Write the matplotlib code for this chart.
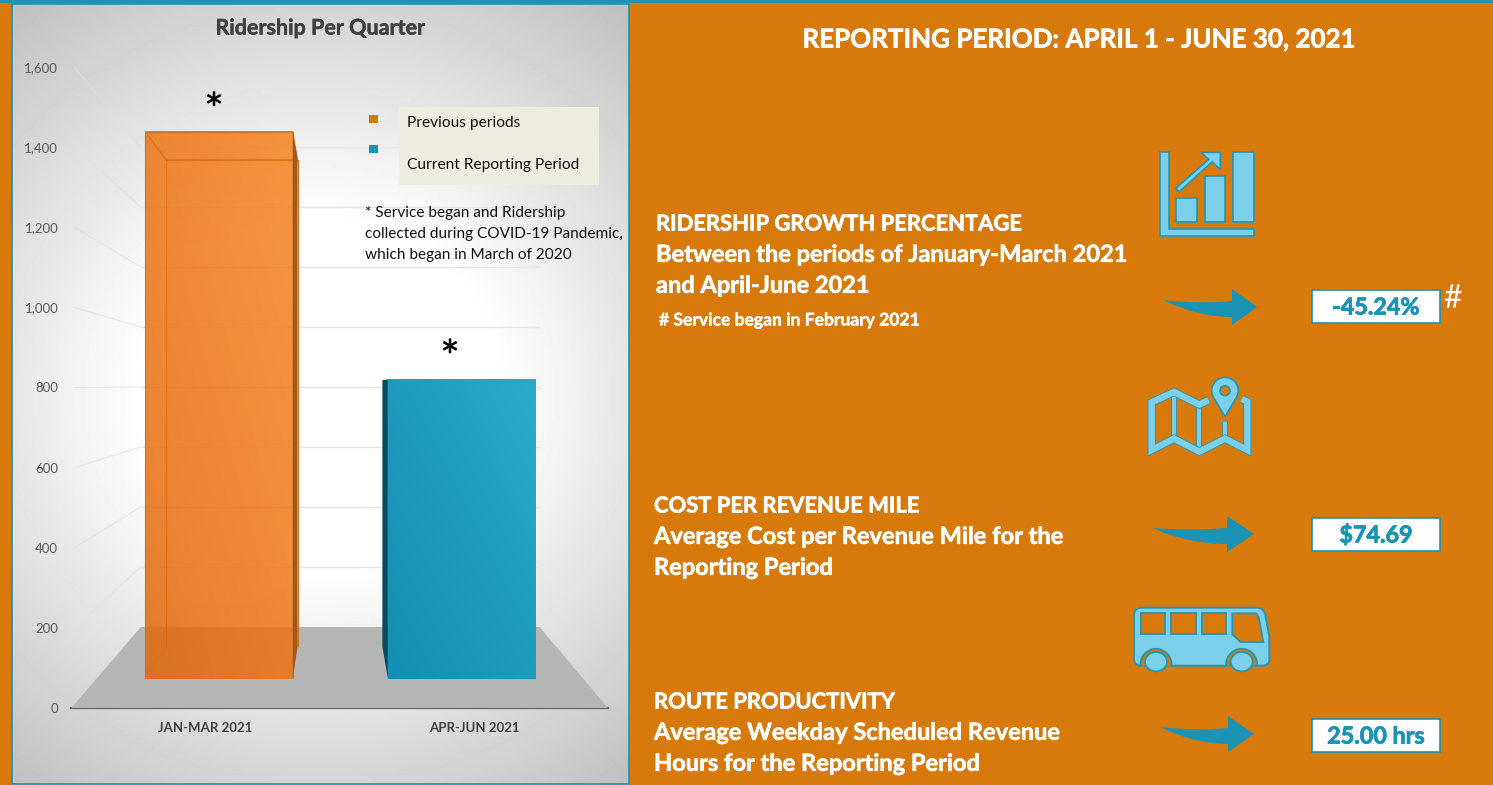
"""
Ridership per quarter dashboard: 3D style bar chart on the left, KPI panel on the right.
"""
import matplotlib
matplotlib.use('Agg')
import matplotlib.pyplot as plt
import matplotlib.patheffects as pe
import numpy as np
from matplotlib.path import Path
from matplotlib.patches import Circle, Ellipse, PathPatch, Polygon, Rectangle

plt.rcParams['font.family'] = ['Lato', 'DejaVu Sans']

W, H = 1493, 785

CATEGORIES = ['JAN-MAR 2021', 'APR-JUN 2021']
RIDERSHIP = [1500, 821]
Y_TICKS = [0, 200, 400, 600, 800, 1000, 1200, 1400, 1600]
LEGEND_LABELS = ['Previous periods', 'Current Reporting Period']
NOTE_LINES = ['* Service began and Ridership',
              'collected during COVID-19 Pandemic,',
              'which began in March of 2020']
KPI_TITLES = ['RIDERSHIP GROWTH PERCENTAGE', 'COST PER REVENUE MILE', 'ROUTE PRODUCTIVITY']
KPI_LINES = [['Between the periods of January-March 2021', 'and April-June 2021'],
             ['Average Cost per Revenue Mile for the', 'Reporting Period'],
             ['Average Weekday Scheduled Revenue', 'Hours for the Reporting Period']]
KPI_VALUES = ['-45.24%', '$74.69', '25.00 hrs']

ORANGE = '#D8790B'
TEAL = '#1A93B5'
ICON_FILL = '#7BCFE9'
ICON_EDGE = '#2296B5'
BAR_EDGE = '#D9701A'
BAR_WIDTH = 0.608


def pix_axes(fig, x0, x1, y_bottom, y_top, zorder):
    """Axes placed by image pixels, y measured from the top of the image."""
    ax = fig.add_axes([x0 / W, 1 - y_bottom / H, (x1 - x0) / W, (y_bottom - y_top) / H],
                      zorder=zorder)
    ax.patch.set_visible(False)
    ax.set_xticks([])
    ax.set_yticks([])
    for s in ax.spines.values():
        s.set_visible(False)
    return ax


def set_limits(ax):
    ax.set_xlim(-0.5, 1.5)
    ax.set_ylim(0, 1600)


def to_page(ax, page, x, y):
    return page.transData.inverted().transform(ax.transData.transform((x, y)))


def heavier(color, width=0.45):
    # Lato Bold is lighter than the original face, thicken it a little
    return [pe.withStroke(linewidth=width, foreground=color)]


def gradient_fill(ax, bar, low, high):
    """Diagonal gradient clipped to a bar (low = bottom left, high = top right)."""
    yy, xx = np.mgrid[0:1:64j, 0:1:64j]
    t = ((xx + yy) / 2)[..., None]
    rgba = np.array(low) * (1 - t) + np.array(high) * t
    im = ax.imshow(rgba, origin='lower', aspect='auto', zorder=3,
                   extent=(bar.get_x(), bar.get_x() + bar.get_width(), 0, bar.get_height()))
    im.set_clip_path(bar)


def background_gradient(page):
    yy, xx = np.mgrid[4:785:200j, 12:629:200j]
    r = np.hypot((xx - 320) / 400, (yy - 395) / 390)
    grey = (255 - np.clip(r - 0.45, 0, None) * 78) / 255
    page.imshow(grey, cmap='gray', vmin=0, vmax=1, extent=(12, 629, 785, 4),
                aspect='auto', zorder=1)
    page.set_xlim(0, W)
    page.set_ylim(H, 0)
    page.add_patch(Rectangle((12, 4), 617, 780, fill=False, ec=TEAL, lw=1.2, zorder=2))


def draw_chart(fig, page):
    # Each depth plane of the fake 3D chart gets its own axes with the same data range
    ax_lab = pix_axes(fig, 71.4, 608, 708, 67, 1)
    ax_wall = pix_axes(fig, 140.8, 539.6, 627, 147, 2)
    ax_back = pix_axes(fig, 123.8, 556.2, 646.7, 127.5, 3)
    ax_front = pix_axes(fig, 97.6, 583, 678.7, 95.2, 4)

    x = np.arange(len(CATEGORIES))
    for ax in (ax_lab, ax_wall, ax_back, ax_front):
        set_limits(ax)

    ax_lab.set_yticks(Y_TICKS, [f'{v:,}' for v in Y_TICKS])
    ax_lab.set_xticks(x, CATEGORIES)
    ax_lab.tick_params(axis='y', length=0, pad=9.5, labelsize=9.5, labelcolor='#595959')
    ax_lab.tick_params(axis='x', length=0, pad=10, labelsize=9.5, labelcolor='#404040')
    for t in ax_lab.get_xticklabels():
        t.set_fontweight('bold')
    ax_lab.axhline(0, color='#5f5f5f', lw=1.6, zorder=5, clip_on=False)

    ax_wall.hlines(Y_TICKS[1:], -0.5, 1.5, color='#e6e6e6', lw=1.0, clip_on=False)
    # side wall lines run from the label plane back to the wall
    for v in Y_TICKS[1:]:
        p0 = to_page(ax_lab, page, -0.5, v)
        p1 = to_page(ax_wall, page, -0.5, v)
        ax_wall.plot([p0[0] + 3, p1[0]], [p0[1], p1[1]], color='#e0e0e0', lw=0.8, alpha=0.7,
                     transform=page.transData, clip_on=False)
    floor = [to_page(ax_wall, page, -0.5, 0), to_page(ax_wall, page, 1.5, 0),
             to_page(ax_lab, page, 1.5, 0), to_page(ax_lab, page, -0.5, 0)]
    ax_wall.add_patch(Polygon(floor, fc='#b5b5b5', ec='none', zorder=4,
                              transform=page.transData, clip_on=False))

    # only the outline of the far face shows through the orange bar
    ax_back.bar(x[0], RIDERSHIP[0], BAR_WIDTH, color='none', ec=BAR_EDGE, lw=0.8)

    bars = ax_front.bar(x, RIDERSHIP, BAR_WIDTH, color='none', ec='none', zorder=3)
    gradient_fill(ax_front, bars[0], (0.89, 0.39, 0.02, 0.83), (0.97, 0.50, 0.09, 0.83))
    gradient_fill(ax_front, bars[1], (0.08, 0.56, 0.70, 1), (0.17, 0.66, 0.80, 1))
    set_limits(ax_front)
    ax_front.bar(x[0], RIDERSHIP[0], BAR_WIDTH, color='none', ec=BAR_EDGE, lw=0.8, zorder=4)

    # top and side faces come from the same bars on the front and back planes
    half = BAR_WIDTH / 2
    v = RIDERSHIP[0]
    top = [to_page(ax_front, page, -half, v), to_page(ax_front, page, half, v),
           to_page(ax_back, page, half, v), to_page(ax_back, page, -half, v)]
    ax_front.add_patch(Polygon(top, fc='none', ec=BAR_EDGE, lw=0.8, zorder=4,
                               transform=page.transData, clip_on=False))
    side = [to_page(ax_front, page, half, v), to_page(ax_back, page, half, v),
            to_page(ax_back, page, half, 0), to_page(ax_front, page, half, 0)]
    ax_front.add_patch(Polygon(side, fc=(0.64, 0.35, 0.11, 1), ec='none', zorder=5,
                               transform=page.transData, clip_on=False))
    ax_front.plot(*zip(to_page(ax_front, page, -half, 0), to_page(ax_back, page, -half, 0)),
                  color=BAR_EDGE, lw=0.8, zorder=5, transform=page.transData, clip_on=False)

    v = RIDERSHIP[1]
    side = [to_page(ax_front, page, 1 - half, v), to_page(ax_back, page, 1 - half, v),
            to_page(ax_back, page, 1 - half, 0), to_page(ax_front, page, 1 - half, 0)]
    ax_front.add_patch(Polygon(side, fc='#0B4A5C', ec='none', zorder=2,
                               transform=page.transData, clip_on=False))


def draw_overlay(top):
    top.text(320, 28, 'Ridership Per Quarter', ha='center', va='center', fontsize=15.5,
             fontweight='bold', color='#404040', path_effects=heavier('#404040', 0.3))
    for x, y in [(214, 106), (450, 353)]:
        top.text(x, y, '*', ha='center', va='center', fontsize=22, color='black',
                 family='DejaVu Sans', path_effects=heavier('black', 0.6))

    top.add_patch(Rectangle((399, 107), 200, 78, fc='#EEEDE0', ec='none'))
    top.add_patch(Rectangle((369, 115), 8.5, 7.5, fc=ORANGE, ec='none'))
    top.add_patch(Rectangle((369, 145), 8.5, 7.5, fc=TEAL, ec='none'))
    for label, y in zip(LEGEND_LABELS, [123, 165]):
        top.text(407, y, label, ha='left', va='center', fontsize=11.2, color='#111111')
    for line, y in zip(NOTE_LINES, [213, 234, 255]):
        top.text(365, y, line, ha='left', va='center', fontsize=11.1, color='#111111')


def swoosh(page, tail, base_x, tip):
    """Curved arrow like the Office 'swoosh' shape."""
    my = tip[1]
    verts = [tail,
             (tail[0] + 35, my - 3), (base_x, my - 6),
             (base_x, my - 18), tip, (base_x, my + 18), (base_x, my + 10),
             (tail[0] + 35, my + 10), tail]
    codes = [Path.MOVETO, Path.CURVE3, Path.CURVE3, Path.LINETO, Path.LINETO, Path.LINETO,
             Path.LINETO, Path.CURVE3, Path.CURVE3]
    page.add_patch(PathPatch(Path(verts, codes), fc=TEAL, ec='none', zorder=3))


def icon_poly(page, pts, ox, oy, fc=ICON_FILL, closed=True):
    xy = [(ox + a / 3, oy + b / 3) for a, b in pts]
    page.add_patch(Polygon(xy, closed=closed, fc=fc, ec=ICON_EDGE, lw=1.2, zorder=3))


def chart_icon(page):
    ox, oy = 1130, 140
    icon_poly(page, [(90, 37), (116, 37), (116, 266), (372, 266), (372, 289), (90, 289)], ox, oy)
    icon_poly(page, [(139, 174), (201, 174), (201, 246), (139, 246)], ox, oy)
    icon_poly(page, [(224, 109), (286, 109), (286, 246), (224, 246)], ox, oy)
    icon_poly(page, [(310, 37), (372, 37), (372, 246), (310, 246)], ox, oy)
    icon_poly(page, [(137, 145), (148, 155), (246, 66), (271, 88), (271, 37), (213, 37),
                     (236, 58)], ox, oy)


def map_icon(page):
    ox, oy = 1130, 370
    outline = [(236, 90), (208, 104), (132, 66), (65, 97), (65, 240), (132, 206), (208, 245),
               (285, 206), (352, 240), (352, 95), (335, 87)]
    folds = [[(132, 66), (132, 206)], [(208, 104), (208, 245)], [(285, 155), (285, 206)]]
    for pts, lw in [(p, 2.8) for p in folds] + [(outline, 4.6)]:
        xs = [ox + a / 3 for a, b in pts]
        ys = [oy + b / 3 for a, b in pts]
        line, = page.plot(xs, ys, color=ICON_FILL, lw=lw, zorder=3, solid_joinstyle='miter',
                          solid_capstyle='butt')
        line.set_path_effects([pe.Stroke(linewidth=lw + 1.2, foreground=ICON_EDGE), pe.Normal()])
    # location pin
    t = np.radians(np.arange(-30, 211, 10))
    cx, cy = ox + 285 / 3, oy + 62 / 3
    r = 13.3
    pin = [(cx + r * np.cos(a), cy - r * np.sin(a)) for a in t] + [(cx, oy + 140 / 3)]
    page.add_patch(Polygon(pin, fc=ICON_FILL, ec=ICON_EDGE, lw=1.2, zorder=4))
    page.add_patch(Circle((cx, cy), 5, fc=ORANGE, ec=ICON_EDGE, lw=1.2, zorder=5))


def bus_icon(page):
    ox, oy = 1120, 595
    p = lambda a, b: (ox + a / 3, oy + b / 3)
    verts = [p(42, 60), p(42, 38), p(66, 38), p(410, 38), p(435, 38), p(438, 70),
             p(448, 125), p(448, 195), p(448, 212), p(425, 212), p(62, 212), p(42, 212),
             p(42, 190), p(42, 60)]
    codes = [Path.MOVETO, Path.CURVE3, Path.CURVE3, Path.LINETO, Path.CURVE3, Path.CURVE3,
             Path.LINETO, Path.LINETO, Path.CURVE3, Path.CURVE3, Path.LINETO, Path.CURVE3,
             Path.CURVE3, Path.CLOSEPOLY]
    body = PathPatch(Path(verts, codes), fc=ICON_FILL, ec=ICON_EDGE, lw=1.4, zorder=3)
    page.add_patch(body)
    for a in (62, 153, 245):
        page.add_patch(Rectangle(p(a, 55), 74 / 3, 63 / 3, fc=ORANGE, ec=ICON_EDGE, lw=1.3, zorder=4))
    page.add_patch(Polygon([p(337, 55), p(408, 55), p(416, 66), p(430, 141), p(362, 141),
                            p(337, 118)], fc=ORANGE, ec=ICON_EDGE, lw=1.3, zorder=4))
    for a in (108, 365):
        arch = Circle(p(a, 208), 15.5, fc=ORANGE, ec=ICON_EDGE, lw=1.3, zorder=4)
        page.add_patch(arch)
        arch.set_clip_path(body)
        page.add_patch(Ellipse(p(a, 200), 66 / 3, 58 / 3, fc=ICON_FILL, ec=ICON_EDGE, lw=1.3, zorder=5))


def draw_panel(page):
    page.text(1080, 39.5, 'REPORTING PERIOD: APRIL 1 - JUNE 30, 2021', ha='center', va='center',
              fontsize=18.7, fontweight='bold', color='white', path_effects=heavier('white'))
    text_x = [656, 654, 654]
    text_y = [224, 506, 702]
    for title, lines, x, y in zip(KPI_TITLES, KPI_LINES, text_x, text_y):
        page.text(x, y, title, ha='left', va='center', fontsize=15.8,
                  fontweight='bold', color='white', path_effects=heavier('white'))
        for i, s in enumerate(lines):
            page.text(x, y - 0.7 + (i + 1) * 31, s, ha='left', va='center', fontsize=17,
                      fontweight='bold', color='white', path_effects=heavier('white'))
    page.text(659, 320.5, '# Service began in February 2021', ha='left', va='center',
              fontsize=12.6, fontweight='bold', color='white', path_effects=heavier('white', 0.3))

    for value, y0 in zip(KPI_VALUES, [290, 518, 719]):
        page.add_patch(Rectangle((1312, y0), 127.5, 32.5, fc='white', ec=TEAL, lw=1.2, zorder=3))
        page.text(1376, y0 + 18, value, ha='center', va='center', fontsize=16.8,
                  fontweight='bold', color=TEAL, zorder=4, path_effects=heavier(TEAL, 0.6))
    page.text(1452, 299, '#', ha='center', va='center', fontsize=23, color='white')

    swoosh(page, (1163, 300), 1232, (1257, 307))
    swoosh(page, (1153, 528), 1227, (1254, 534))
    swoosh(page, (1160, 727), 1228, (1254, 734))
    chart_icon(page)
    map_icon(page)
    bus_icon(page)


def main():
    fig = plt.figure(figsize=(W / 100, H / 100), dpi=100, facecolor=ORANGE)
    page = pix_axes(fig, 0, W, H, 0, 0)
    page.set_xlim(0, W)
    page.set_ylim(H, 0)
    page.add_patch(Rectangle((0, 0), W, 2.5, fc=TEAL, ec='none', zorder=2))
    background_gradient(page)

    draw_chart(fig, page)
    draw_panel(page)

    top = pix_axes(fig, 0, W, H, 0, 10)
    top.set_xlim(0, W)
    top.set_ylim(H, 0)
    draw_overlay(top)

    page.set_xlim(0, W)
    page.set_ylim(H, 0)
    fig.savefig('out.png', dpi=100, facecolor=ORANGE)
    plt.close(fig)


if __name__ == '__main__':
    main()
